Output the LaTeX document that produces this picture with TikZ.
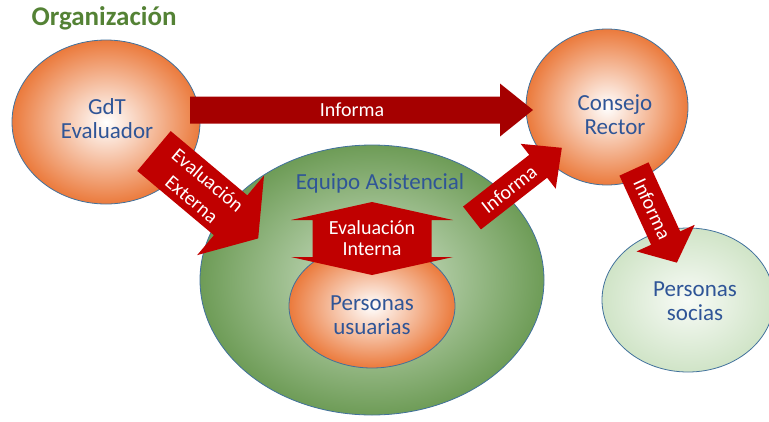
\documentclass[tikz,border=0pt]{standalone}
\usepackage{fontspec}
\setmainfont{Carlito}
\usepackage{tikz}
\usetikzlibrary{shapes.geometric}
\definecolor{titlegreen}{HTML}{548235}
\definecolor{textblue}{HTML}{2F5597}
\definecolor{bubbleline}{HTML}{41719C}
\definecolor{bubbleorange}{HTML}{EB7A3C}
\definecolor{teamgreen}{HTML}{6E9C57}
\definecolor{teamlight}{HTML}{D4E5CE}
\definecolor{partnergreen}{HTML}{D0E4C7}
\definecolor{arrowred}{HTML}{C00000}
\definecolor{arrowdark}{HTML}{A50000}
\tikzset{
  bubble/.style={ellipse, draw=bubbleline, line width=0.8pt, inner sep=0pt},
  orangebubble/.style={bubble, inner color=white, outer color=bubbleorange},
  teambubble/.style={bubble, inner color=teamlight, outer color=teamgreen},
  partnerbubble/.style={bubble, inner color=white!85!partnergreen, outer color=partnergreen},
  bubbletext/.style={text=textblue, align=center, font=\fontsize{23}{24}\selectfont},
  arrowtext/.style={text=white, align=center, font=\fontsize{20}{21}\selectfont}
}

\begin{document}
\begin{tikzpicture}[x=1pt, y=1pt]
  \useasboundingbox (0,0) rectangle (769,-421);
  \node[text=titlegreen, font=\fontsize{27}{28}\selectfont\bfseries] (title) at (104,-18) {Organización};
  % circulos
  \node[orangebubble, minimum width=188pt, minimum height=164pt] (gdt) at (106,-122) {};
  \node[orangebubble, minimum width=162pt, minimum height=156pt] (consejo) at (607,-107) {};
  \node[teambubble, minimum width=344pt, minimum height=270pt] (equipo) at (372,-280) {};
  \node[orangebubble, minimum width=166pt, minimum height=124pt] (usuarias) at (372,-306) {};
  \node[partnerbubble, minimum width=172pt, minimum height=144pt] (socias) at (688,-300) {};
  \node[bubbletext] (gdtlabel) at (107,-119) {GdT\\Evaluador};
  \node[bubbletext] (consejolabel) at (615,-115) {Consejo\\Rector};
  \node[bubbletext] (equipolabel) at (380,-183) {Equipo Asistencial};
  \node[bubbletext] (usuariaslabel) at (372,-315) {Personas\\usuarias};
  \node[bubbletext] (sociaslabel) at (695,-301) {Personas\\socias};
  % flechas
  \begin{scope}[shift={(190,-110)}, transform shape]
    \fill[arrowdark] (0,-13.5) -- (310,-13.5) -- (310,-26.5) -- (343,0) -- (310,26.5) -- (310,13.5) -- (0,13.5) -- cycle;
    \node[arrowtext] (informa1) at (162,0) {Informa};
  \end{scope}
  \begin{scope}[shift={(154,-151)}, rotate=-40, transform shape]
    \fill[arrowred] (0,-26) -- (100,-26) -- (100,-52) -- (136,0) -- (100,52) -- (100,26) -- (0,26) -- cycle;
    \node[arrowtext, font=\fontsize{20}{25}\selectfont] (externa) at (60,0) {Evaluación\\Externa};
  \end{scope}
  \begin{scope}[shift={(472,-218)}, rotate=38, transform shape]
    \fill[arrowred] (0,-14.5) -- (84,-14.5) -- (84,-28.5) -- (114,0) -- (84,28.5) -- (84,14.5) -- (0,14.5) -- cycle;
    \node[arrowtext] (informa2) at (47,0) {Informa};
  \end{scope}
  \begin{scope}[shift={(634,-169)}, rotate=-65.4, transform shape]
    \fill[arrowred] (0,-16) -- (76,-16) -- (76,-32) -- (103,0) -- (76,32) -- (76,16) -- (0,16) -- cycle;
    \node[arrowtext] (informa3) at (44,0) {Informa};
  \end{scope}
  \begin{scope}[shift={(372,-238.5)}]
    \fill[arrowred] (-59.5,18.5) -- (-81,18.5) -- (0,36.5) -- (81,18.5) -- (59.5,18.5) -- (59.5,-18.5)
      -- (81,-18.5) -- (0,-36.5) -- (-81,-18.5) -- (-59.5,-18.5) -- cycle;
    \node[arrowtext] (interna) at (0,0.5) {Evaluación\\Interna};
  \end{scope}
\end{tikzpicture}
\end{document}
